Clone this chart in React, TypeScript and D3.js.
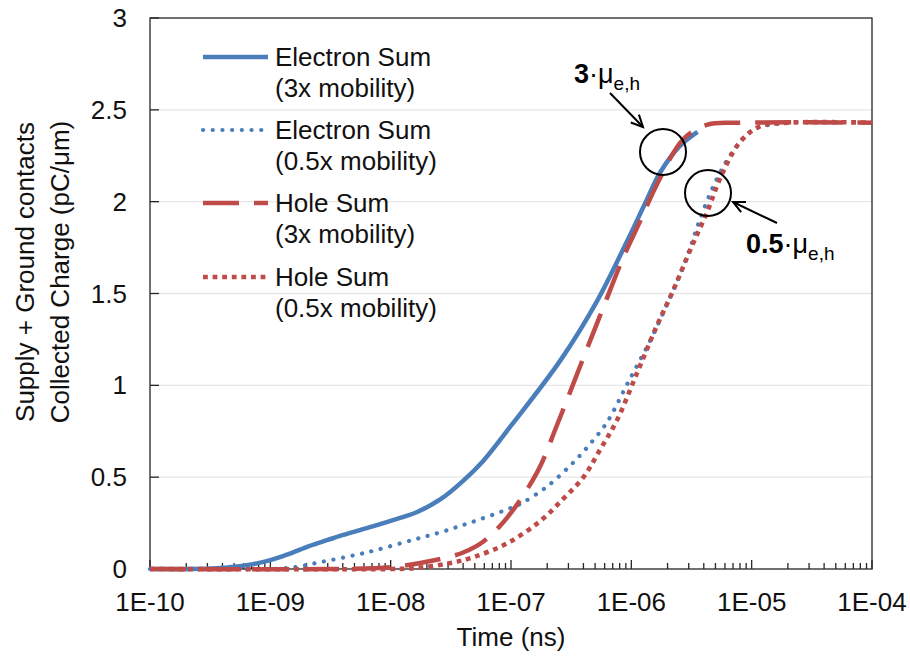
import React from "react";
import * as d3 from "d3";

// Collected charge (pC/µm) vs. time, four mobility cases
const elec3Time = [1e-10, 2e-10, 3.6e-10, 5e-10, 7e-10, 1e-9, 1.4e-9, 2.1e-9, 3e-9, 3.8e-9, 6e-9, 8.7e-9, 1.3e-8, 1.66e-8, 2.6e-8, 4e-8, 5.9e-8, 1e-7, 2.6e-7, 5.2e-7, 9.3e-7, 1.3e-6, 1.74e-6, 2.5e-6, 3.55e-6];
const elec3Charge = [0, 0, 0.004, 0.012, 0.025, 0.048, 0.08, 0.125, 0.158, 0.18, 0.218, 0.25, 0.285, 0.31, 0.38, 0.48, 0.59, 0.78, 1.14, 1.46, 1.79, 1.99, 2.16, 2.3, 2.38];

const elecHalfTime = [1e-10, 1e-9, 1.6e-9, 2.5e-9, 6.3e-9, 1.66e-8, 2.6e-8, 3.8e-8, 5.5e-8, 8.5e-8, 1.2e-7, 2e-7, 3.3e-7, 4.8e-7, 6.3e-7, 9.3e-7, 1.45e-6, 2.1e-6, 2.9e-6, 3.7e-6, 5.1e-6, 7.1e-6, 1.02e-5, 2e-5, 3.2e-5];
const elecHalfCharge = [0, 0, 0.01, 0.035, 0.09, 0.165, 0.2, 0.235, 0.27, 0.315, 0.355, 0.45, 0.58, 0.7, 0.8, 1.01, 1.25, 1.48, 1.7, 1.9, 2.12, 2.28, 2.39, 2.43, 2.43];

const hole3Time = [1e-10, 3.2e-9, 1e-8, 2.2e-8, 4e-8, 5.9e-8, 9.3e-8, 1.66e-7, 2.4e-7, 4e-7, 5.9e-7, 8.5e-7, 1.12e-6, 1.74e-6, 2.7e-6, 4.3e-6, 8e-6, 1e-4];
const hole3Charge = [0, 0, 0.01, 0.045, 0.09, 0.15, 0.28, 0.53, 0.78, 1.15, 1.43, 1.69, 1.86, 2.13, 2.34, 2.42, 2.43, 2.43];

const holeHalfTime = [1e-10, 1e-8, 1.6e-8, 3e-8, 4.9e-8, 9.3e-8, 1.74e-7, 2.7e-7, 4e-7, 5.5e-7, 7.6e-7, 1.12e-6, 1.62e-6, 2.24e-6, 3.1e-6, 4.3e-6, 5.5e-6, 7.9e-6, 1.17e-5, 2e-5, 1e-4];
const holeHalfCharge = [0, 0, 0.005, 0.03, 0.065, 0.14, 0.26, 0.38, 0.5, 0.65, 0.81, 1.07, 1.32, 1.52, 1.74, 1.95, 2.13, 2.32, 2.41, 2.43, 2.43];

const xTickValues = [1e-10, 1e-9, 1e-8, 1e-7, 1e-6, 1e-5, 1e-4];
const xTickLabels = ["1E-10", "1E-09", "1E-08", "1E-07", "1E-06", "1E-05", "1E-04"];
const yTickValues = [0, 0.5, 1, 1.5, 2, 2.5, 3];
const yTickLabels = ["0", "0.5", "1", "1.5", "2", "2.5", "3"];

const seriesNames = ["Electron Sum", "Electron Sum", "Hole Sum", "Hole Sum"];
const seriesNotes = ["(3x mobility)", "(0.5x mobility)", "(3x mobility)", "(0.5x mobility)"];

const BLUE = "#4a7ebb";
const RED = "#be4b48";
const FONT = "'Liberation Sans', Arial, sans-serif";

const styles = [
  { color: BLUE, width: 4.5, dash: undefined as string | undefined, cap: "butt" },
  { color: BLUE, width: 4.2, dash: "0.1 9.6", cap: "round" },
  { color: RED, width: 4.5, dash: "36 15", cap: "butt" },
  { color: RED, width: 4.6, dash: "4.8 4.8", cap: "butt" },
];

export default function App() {
  const W = 910;
  const H = 658;
  const left = 150, right = 872, top = 18, bottom = 569;

  const x = d3.scaleLog().domain([1e-10, 1e-4]).range([left, right]);
  const y = d3.scaleLinear().domain([0, 3]).range([bottom, top]);

  const line = d3
    .line<[number, number]>()
    .x((d) => x(d[0]))
    .y((d) => Math.min(bottom, y(d[1])))
    .curve(d3.curveCatmullRom.alpha(0.5));

  const series: [number[], number[]][] = [
    [elec3Time, elec3Charge],
    [elecHalfTime, elecHalfCharge],
    [hole3Time, hole3Charge],
    [holeHalfTime, holeHalfCharge],
  ];

  const minorTicks: number[] = [];
  for (let e = -10; e < -4; e++) {
    for (let k = 2; k <= 9; k++) minorTicks.push(k * Math.pow(10, e));
  }

  const axisColor = "#262626";

  const legendRows = [57, 130, 203, 277];

  const arrowHead = (x1: number, y1: number, x2: number, y2: number) => {
    const a = Math.atan2(y2 - y1, x2 - x1);
    const len = 13;
    const spread = 0.45;
    const p1 = [x2 - len * Math.cos(a - spread), y2 - len * Math.sin(a - spread)];
    const p2 = [x2 - len * Math.cos(a + spread), y2 - len * Math.sin(a + spread)];
    return `M${p1[0]},${p1[1]}L${x2},${y2}L${p2[0]},${p2[1]}`;
  };

  return (
    <svg
      width={W}
      height={H}
      style={{ position: "absolute", left: 0, top: 0, background: "#fff" }}
      fontFamily={FONT}
    >
      {/* gridlines */}
      {yTickValues.slice(1, -1).map((v) => (
        <line key={"g" + v} x1={left} x2={right} y1={y(v)} y2={y(v)} stroke="#e6e6e6" strokeWidth={1.3} />
      ))}

      {/* plot frame */}
      <rect x={left} y={top} width={right - left} height={bottom - top} fill="none" stroke={axisColor} strokeWidth={1.3} />

      {/* y ticks */}
      {yTickValues.map((v, i) => (
        <g key={"y" + v}>
          <line x1={left} x2={left + 9} y1={y(v)} y2={y(v)} stroke={axisColor} strokeWidth={1.3} />
          <text x={127} y={y(v)} dy="0.35em" textAnchor="end" fontSize={26} fill="#111">
            {yTickLabels[i]}
          </text>
        </g>
      ))}

      {/* x ticks */}
      {minorTicks.map((v) => (
        <line key={"m" + v} x1={x(v)} x2={x(v)} y1={bottom} y2={bottom - 6} stroke={axisColor} strokeWidth={1.3} />
      ))}
      {xTickValues.map((v, i) => (
        <g key={"x" + v}>
          <line x1={x(v)} x2={x(v)} y1={bottom} y2={bottom - 9} stroke={axisColor} strokeWidth={1.3} />
          <text x={x(v)} y={611} textAnchor="middle" fontSize={26} fill="#111">
            {xTickLabels[i]}
          </text>
        </g>
      ))}

      {/* series */}
      {series.map(([t, c], i) => (
        <path
          key={"s" + i}
          d={line(t.map((tv, j) => [tv, c[j]] as [number, number])) || ""}
          fill="none"
          stroke={styles[i].color}
          strokeWidth={styles[i].width}
          strokeDasharray={styles[i].dash}
          strokeLinecap={styles[i].cap as any}
          strokeLinejoin="round"
        />
      ))}

      {/* legend */}
      {legendRows.map((ry, i) => (
        <g key={"l" + i}>
          <line
            x1={203}
            x2={268}
            y1={ry}
            y2={ry}
            stroke={styles[i].color}
            strokeWidth={styles[i].width}
            strokeDasharray={styles[i].dash}
            strokeLinecap={styles[i].cap as any}
          />
          <text x={275} y={ry} dy="0.35em" fontSize={26} fill="#111">
            {seriesNames[i]}
          </text>
          <text x={275} y={ry + 31} dy="0.35em" fontSize={26} fill="#111">
            {seriesNotes[i]}
          </text>
        </g>
      ))}

      {/* annotations */}
      <circle cx={663} cy={152} r={23} fill="none" stroke="#000" strokeWidth={2} />
      <circle cx={708} cy={193} r={23} fill="none" stroke="#000" strokeWidth={2} />
      <path d="M610,93L643,127" stroke="#000" strokeWidth={2} fill="none" />
      <path d={arrowHead(610, 93, 643, 127)} stroke="#000" strokeWidth={2} fill="none" />
      <path d="M777,223L733,202" stroke="#000" strokeWidth={2} fill="none" />
      <path d={arrowHead(777, 223, 733, 202)} stroke="#000" strokeWidth={2} fill="none" />

      <text x={574} y={83} fontSize={27} fill="#000">
        <tspan fontWeight="bold">3</tspan>
        <tspan>·μ</tspan>
        <tspan fontSize={19} dy={7}>e,h</tspan>
      </text>
      <text x={746} y={253} fontSize={27} fill="#000">
        <tspan fontWeight="bold">0.5</tspan>
        <tspan>·μ</tspan>
        <tspan fontSize={19} dy={7}>e,h</tspan>
      </text>

      {/* axis titles */}
      <text x={511} y={646} textAnchor="middle" fontSize={26} fill="#111">
        Time (ns)
      </text>
      <g transform="translate(0,272) rotate(-90)">
        <text x={0} y={34} textAnchor="middle" fontSize={26} fill="#111">
          Supply + Ground contacts
        </text>
        <text x={0} y={69} textAnchor="middle" fontSize={26} fill="#111">
          Collected Charge (pC/μm)
        </text>
      </g>
    </svg>
  );
}
